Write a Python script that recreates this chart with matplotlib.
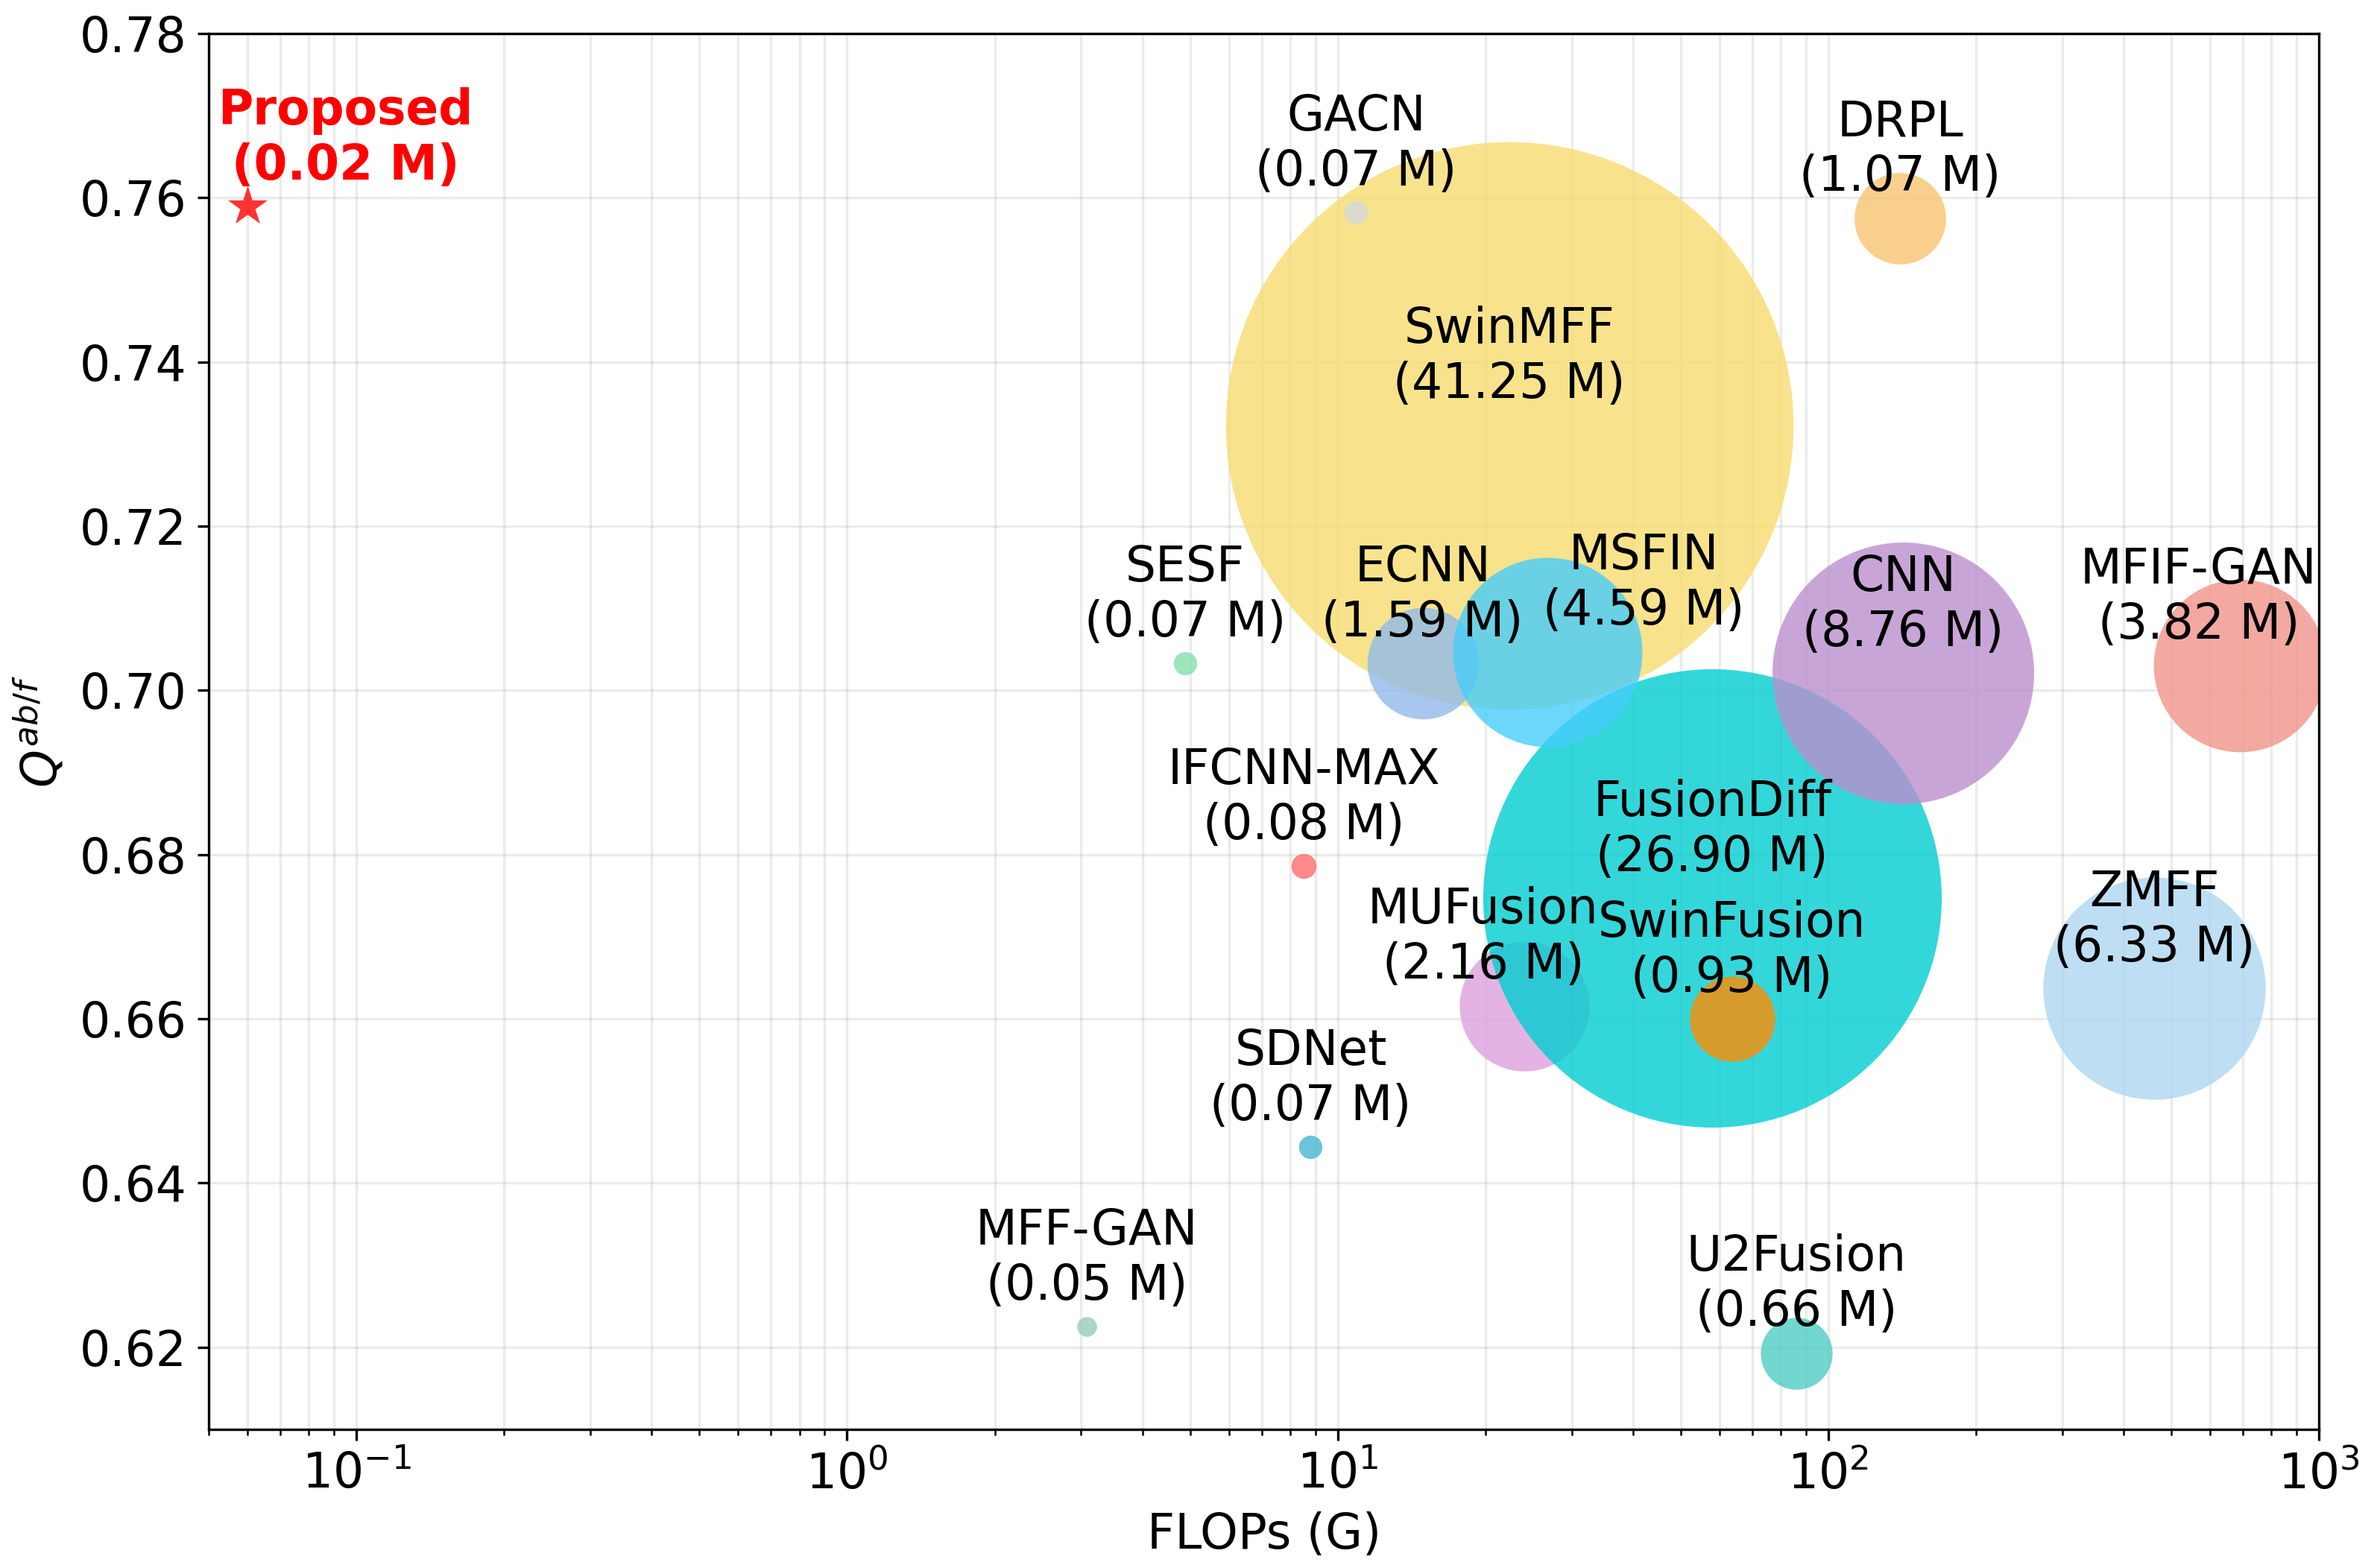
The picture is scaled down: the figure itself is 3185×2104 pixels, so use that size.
import matplotlib
matplotlib.use('Agg')
import matplotlib.pyplot as plt

# methods in drawing order (later ones sit on top)
names = ['SwinMFF', 'GACN', 'DRPL', 'SESF', 'ECNN', 'MUFusion', 'FusionDiff',
         'MSFIN', 'CNN', 'SwinFusion', 'MFIF-GAN', 'ZMFF', 'IFCNN-MAX', 'SDNet',
         'MFF-GAN', 'U2Fusion']
flops = [22.4, 10.9, 140.2, 4.89, 14.9, 24.0, 58.0,
         26.8, 141.9, 63.6, 691, 462, 8.53, 8.81,
         3.08, 86.1]
qabf = [0.7323, 0.7582, 0.7575, 0.7033, 0.7033, 0.6616, 0.6747,
        0.7047, 0.7021, 0.6600, 0.7030, 0.6637, 0.6786, 0.6444,
        0.6225, 0.6193]
params = [41.25, 0.07, 1.07, 0.07, 1.59, 2.16, 26.90,
          4.59, 8.76, 0.93, 3.82, 6.33, 0.08, 0.07,
          0.05, 0.66]
colors = ['#F7DC6F', '#D5D8DC', '#F8C471', '#82E0AA', '#92BAEA', '#DDA0DD', '#00CED1',
          '#47CDFB', '#BB8FCE', '#FF8C00', '#F1948A', '#AED6F1', '#FF6B6B', '#45B7D1',
          '#96CEB4', '#4ECDC4']
# x of the label where it is moved away from the bubble centre
label_x = {'MSFIN': 42.1, 'MUFusion': 19.8, 'MFIF-GAN': 569}

prop_flops = 0.060
prop_q = 0.7589
prop_params = 0.02
prop_label_x = 0.095

FS = 15.5
plt.rcParams['font.family'] = 'DejaVu Sans'

fig = plt.figure(figsize=(3186 / 300, 2104 / 300), dpi=300)
ax = fig.add_axes([0.0879, 0.0884, 0.8886, 0.8902])

k = 810  # marker area per M params
off = 0.0083
for i in range(len(names)):
    ax.scatter(flops[i], qabf[i], s=params[i] * k, color=colors[i], alpha=0.8,
               linewidths=0, zorder=2 + i * 0.01)
    tx = label_x.get(names[i], flops[i])
    ax.text(tx, qabf[i] + off, '%s\n(%.2f M)' % (names[i], params[i]),
            ha='center', va='center', fontsize=FS, zorder=5)

ax.scatter(prop_flops, prop_q, marker='*', s=180, color='red', alpha=0.8,
           linewidths=0, zorder=4)
ax.text(prop_label_x, prop_q + off, 'Proposed\n(%.2f M)' % prop_params,
        ha='center', va='center', fontsize=FS, fontweight='bold', color='red', zorder=5)

ax.set_xscale('log')
ax.set_xlim(0.05, 1000)
ax.set_ylim(0.61, 0.78)
ax.set_yticks([0.62, 0.64, 0.66, 0.68, 0.70, 0.72, 0.74, 0.76, 0.78])
ax.grid(True, which='both', alpha=0.25)
ax.set_axisbelow(True)
ax.tick_params(labelsize=FS)
ax.set_xlabel('FLOPs (G)', fontsize=FS)
ax.set_ylabel('$Q^{ab/f}$', fontsize=FS)

fig.savefig('out.png', dpi=300)
